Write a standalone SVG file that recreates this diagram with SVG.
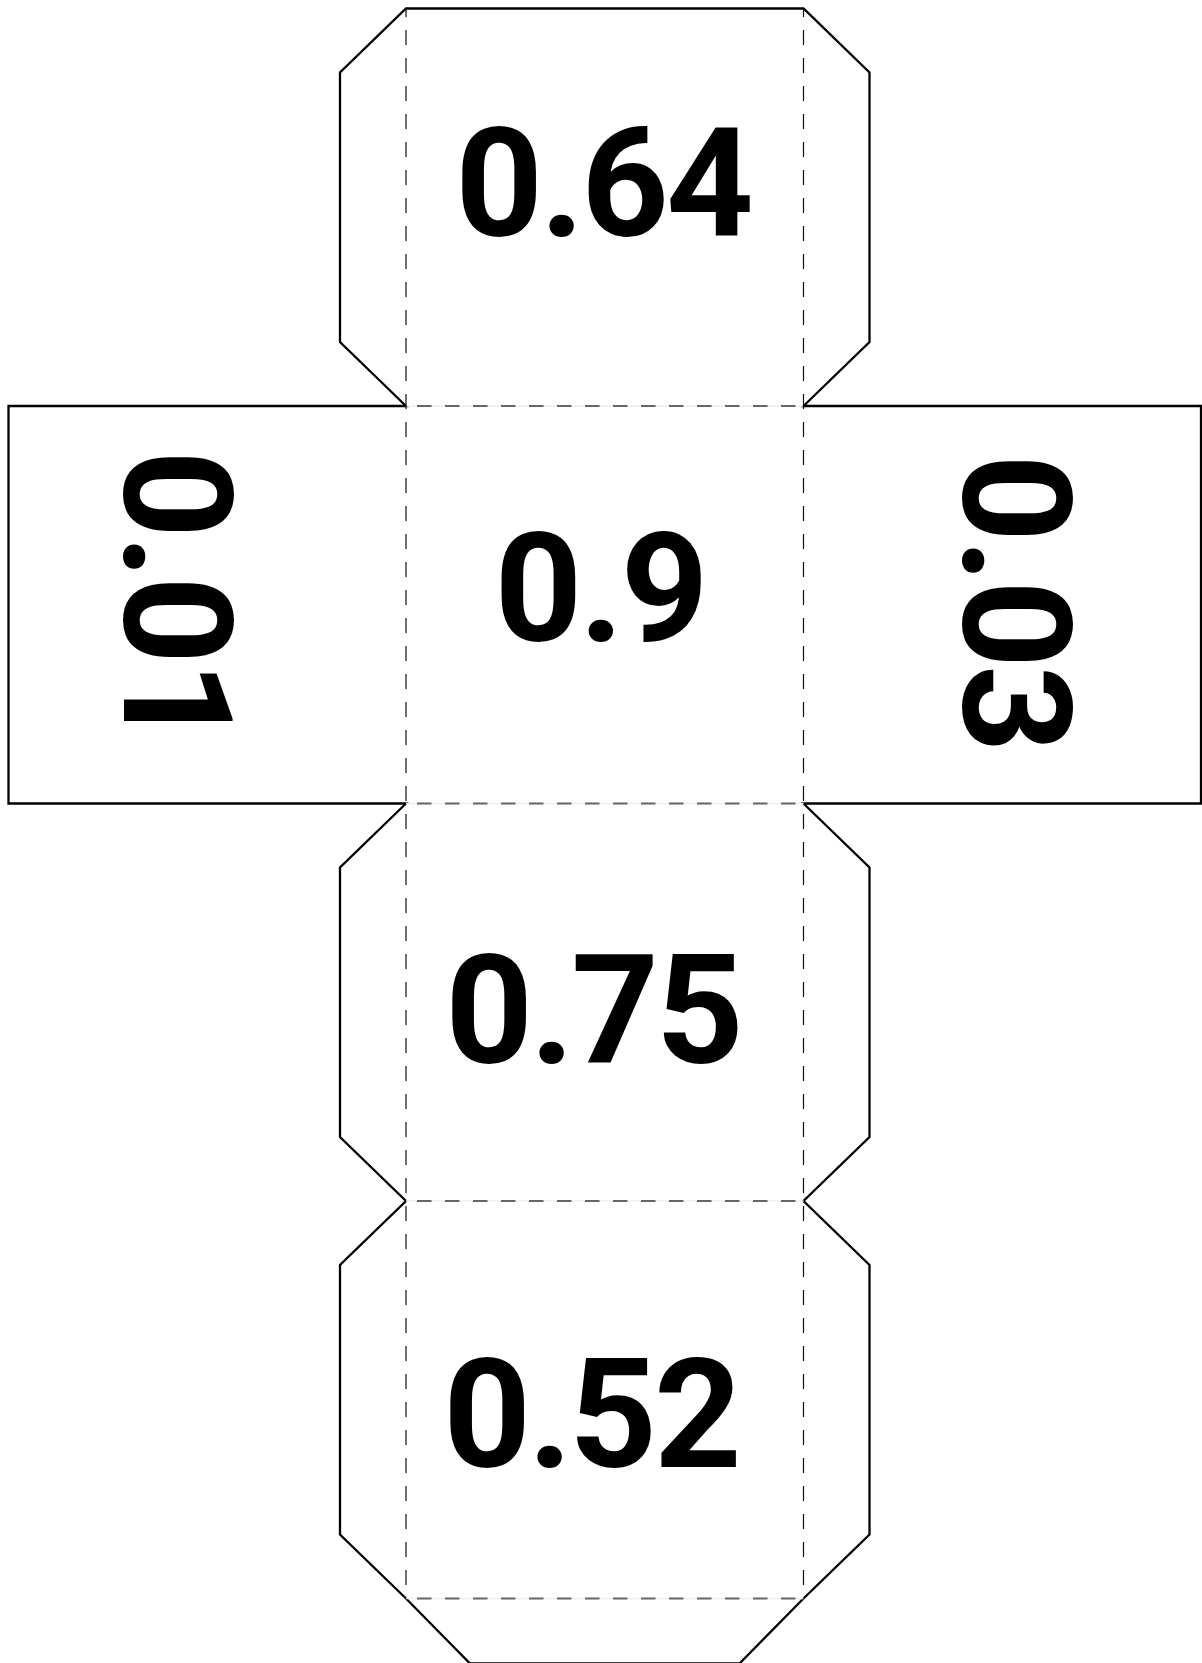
<svg xmlns="http://www.w3.org/2000/svg" width="1202" height="1663" viewBox="0 0 1202 1663">
<style>
.cut{fill:#fff;stroke:#000;stroke-width:2.3;stroke-linejoin:miter}
.foldv{fill:none;stroke:#111;stroke-width:1.2;stroke-dasharray:15 13;stroke-dashoffset:6.5}
.foldbase{fill:none;stroke:#eee;stroke-width:1.5}
.foldh{fill:none;stroke:#666;stroke-width:1.8;stroke-dasharray:14.5 13.5;stroke-dashoffset:-11}
.num{font-family:Roboto,"Liberation Sans",Arial,sans-serif;font-weight:bold;font-size:153px;letter-spacing:-3px;fill:#000}
</style>
<rect x="0" y="0" width="1202" height="1663" fill="#fff"/>
<g id="outline">
<path class="cut" d="M406,8.5 H803.5 L869.5,72.5 V342 L803.5,406 H1201 V803.5 H803.5 L869.5,867.5 V1137 L803.5,1201 L869.5,1265 V1534.5 L803.5,1598.5 L739.5,1663.5 H470 L406,1598.5 L340,1534.5 V1265 L406,1201 L340,1137 V867.5 L406,803.5 H8.5 V406 H406 L340,342 V72.5 Z"/>
</g>
<g id="folds">
<line class="foldbase" x1="406" y1="406" x2="803.5" y2="406"/>
<line class="foldbase" x1="406" y1="803.5" x2="803.5" y2="803.5"/>
<line class="foldbase" x1="406" y1="1201" x2="803.5" y2="1201"/>
<line class="foldbase" x1="406" y1="1598.5" x2="803.5" y2="1598.5"/>
<line class="foldh" x1="406" y1="406" x2="803.5" y2="406"/>
<line class="foldh" x1="406" y1="803.5" x2="803.5" y2="803.5"/>
<line class="foldh" x1="406" y1="1201" x2="803.5" y2="1201"/>
<line class="foldh" x1="406" y1="1598.5" x2="803.5" y2="1598.5"/>
<line class="foldv" x1="406" y1="8.5" x2="406" y2="1598.5"/>
<line class="foldv" x1="803.5" y1="8.5" x2="803.5" y2="1598.5"/>
</g>
<g id="face-top"><text class="num" x="603" y="236" text-anchor="middle">0.64</text></g>
<g id="face-center"><text class="num" x="600" y="641" text-anchor="middle">0.9</text></g>
<g id="face-left"><text class="num" transform="translate(124,598) rotate(90)" text-anchor="middle">0.01</text></g>
<g id="face-right"><text class="num" transform="translate(963,602) rotate(90)" text-anchor="middle">0.03</text></g>
<g id="face-lower"><text class="num" x="593" y="1063" text-anchor="middle">0.75</text></g>
<g id="face-bottom"><text class="num" x="591" y="1467" text-anchor="middle">0.52</text></g>
</svg>
